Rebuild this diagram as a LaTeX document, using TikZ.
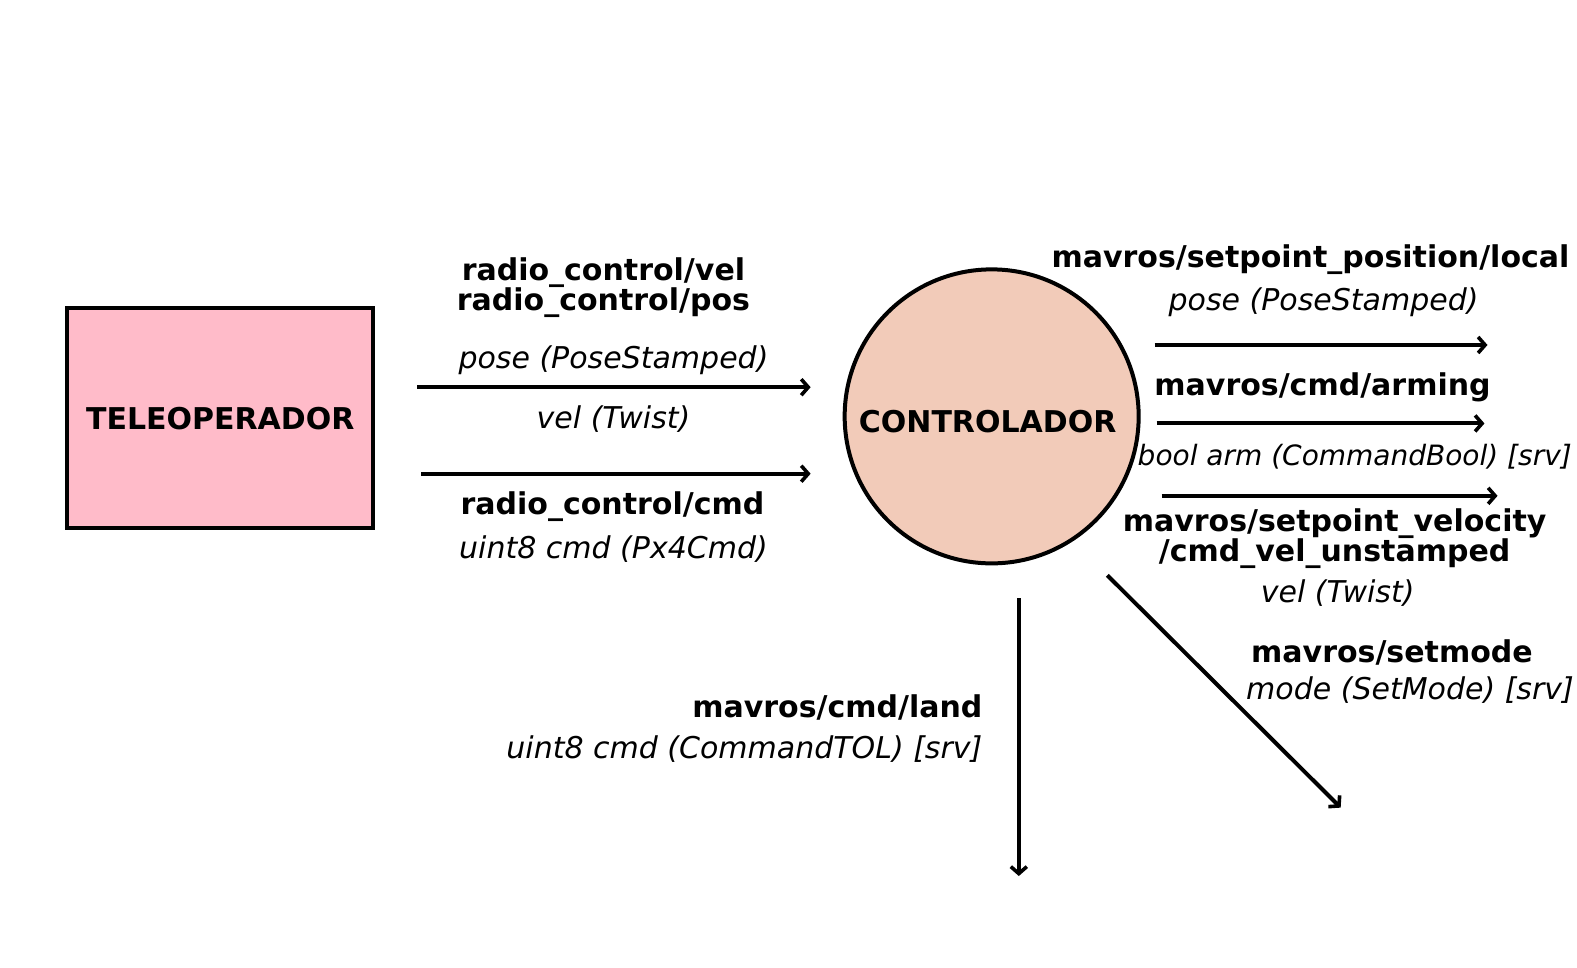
\documentclass[tikz,border=0pt]{standalone}
\usepackage{fontspec}
\setmainfont{DejaVu Sans}
\usetikzlibrary{arrows.meta}
\definecolor{boxpink}{RGB}{255,187,201}
\definecolor{peach}{RGB}{242,203,185}
\tikzset{
  blk/.style={line width=4pt},
  conn/.style={line width=4pt,-{Straight Barb[length=7pt,width=16pt,line width=3.6pt]}},
  topic/.style={font=\fontsize{30}{30}\selectfont\bfseries,align=center,inner sep=0pt},
  msg/.style={font=\fontsize{30}{30}\selectfont\itshape,align=center,inner sep=0pt},
}
\begin{document}
\begin{tikzpicture}[x=1.0057pt,y=-1.0057pt]
\useasboundingbox (0,0) rectangle (1568,962);
\node[blk,draw,fill=boxpink,minimum width=306pt,minimum height=220pt,inner sep=0pt,
  font=\fontsize{30}{30}\selectfont\bfseries] (tele) at (219,416) {TELEOPERADOR};
\node[blk,draw,fill=peach,circle,minimum size=294pt,inner sep=0pt] (ctrl) at (986,414) {};
\node[font=\fontsize{30}{30}\selectfont\bfseries,inner sep=0pt] (ctrllbl) at (982,419) {CONTROLADOR};

\coordinate (a1s) at (415,385); \coordinate (a1e) at (806,385);
\coordinate (a2s) at (419,471); \coordinate (a2e) at (806,471);
\coordinate (a3s) at (1148,343); \coordinate (a3e) at (1479,343);
\coordinate (a4s) at (1150,421); \coordinate (a4e) at (1476,421);
\coordinate (a5s) at (1155,493); \coordinate (a5e) at (1489,493);
\coordinate (a6s) at (1013,595); \coordinate (a6e) at (1013,871);
\coordinate (a7s) at (1101,572); \coordinate (a7e) at (1333,803);
\draw[conn] (a1s) -- (a1e);
\draw[conn] (a2s) -- (a2e);
\draw[conn] (a3s) -- (a3e);
\draw[conn] (a4s) -- (a4e);
\draw[conn] (a5s) -- (a5e);
\draw[conn] (a6s) -- (a6e);
\draw[conn] (a7s) -- (a7e);

\node[topic] (t1) at (600,286) {radio\_control/vel\\radio\_control/pos};
\node[msg] (m1) at (610,358) {pose (PoseStamped)};
\node[msg] (m1b) at (610,417) {vel (Twist)};
\node[topic] (t2) at (609,504) {radio\_control/cmd};
\node[msg] (m2) at (610,546) {uint8 cmd (Px4Cmd)};
\node[topic] (t3) at (1303,258) {mavros/setpoint\_position/local};
\node[msg] (m3) at (1316,300) {pose (PoseStamped)};
\node[topic] (t4) at (1315,385) {mavros/cmd/arming};
\node[msg,font=\fontsize{28}{30}\selectfont\itshape] (m4) at (1347,454) {bool arm (CommandBool) [srv]};
\node[topic] (t5) at (1327,536) {mavros/setpoint\_velocity\\/cmd\_vel\_unstamped};
\node[msg] (m5) at (1330,590) {vel (Twist)};
\node[topic] (t6) at (1384,649) {mavros/setmode};
\node[msg] (m6) at (1402,686) {mode (SetMode) [srv]};
\node[topic,anchor=east] (t7) at (977,703) {mavros/cmd/land};
\node[msg,anchor=east] (m7) at (977,745) {uint8 cmd (CommandTOL) [srv]};
\end{tikzpicture}
\end{document}
